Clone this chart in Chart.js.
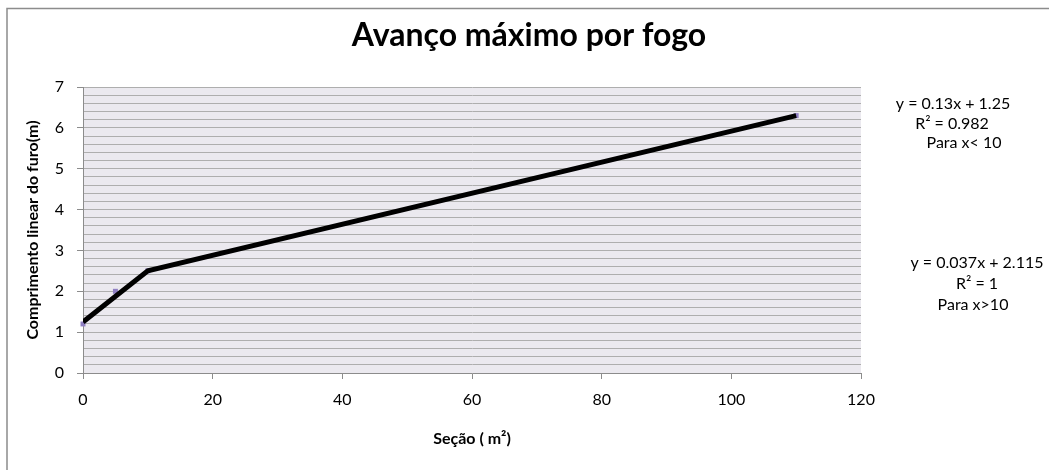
<!DOCTYPE html>
<html>
<head>
<meta charset="utf-8">
<script src="https://cdn.jsdelivr.net/npm/chart.js@4"></script>
<style>
  html, body { margin: 0; padding: 0; background: #ffffff; }
  #wrap { width: 1049px; height: 470px; }
</style>
</head>
<body>
<div id="wrap"><canvas id="c" width="1049" height="470"></canvas></div>
<script>
// Measured points: cross-section (m²) vs. linear hole length (m)
const sectionX = [0, 5, 10, 110];
const lengthY = [1.2, 2, 2.5, 6.3];

// Piecewise fit drawn as the thick line
const fitX = [0, 10, 110];
const fitY = [1.25, 2.5, 6.3];

const xTicks = [0, 20, 40, 60, 80, 100, 120];
const yTicks = [0, 1, 2, 3, 4, 5, 6, 7];

const chartTitle = 'Avanço máximo por fogo';

// Fit equations shown beside the plot
const fitLow = ['y = 0.13x + 1.25', 'R² = 0.982', 'Para x< 10'];
const fitHigh = ['y = 0.037x + 2.115', 'R² = 1', 'Para x>10'];

const FONT = 'Lato, "Open Sans", sans-serif';
const isInt = v => Math.abs(v - Math.round(v)) < 1e-6;

const frameAndNotes = {
  id: 'frameAndNotes',
  beforeDraw(chart) {
    const { ctx, chartArea: a } = chart;
    ctx.save();
    ctx.fillStyle = '#ebe9ef';
    ctx.fillRect(a.left, a.top, a.right - a.left, a.bottom - a.top);
    ctx.strokeStyle = '#8c8c8c';
    ctx.lineWidth = 1.5;
    ctx.strokeRect(7, 8.5, 1100, 500);
    ctx.restore();
  },
  afterDraw(chart) {
    const { ctx } = chart;
    ctx.save();
    ctx.fillStyle = '#000';
    ctx.textAlign = 'center';
    ctx.textBaseline = 'alphabetic';
    ctx.font = 'bold 32px ' + FONT;
    ctx.fillText(chartTitle, 529, 46);

    ctx.textBaseline = 'middle';
    ctx.font = '16px ' + FONT;
    const lowPos = [[953, 104], [952, 124], [964, 143]];
    const highPos = [[977, 263], [977, 284], [973, 305]];
    fitLow.forEach((t, i) => ctx.fillText(t, lowPos[i][0], lowPos[i][1]));
    fitHigh.forEach((t, i) => ctx.fillText(t, highPos[i][0], highPos[i][1]));
    ctx.restore();
  }
};

new Chart(document.getElementById('c'), {
  type: 'scatter',
  data: {
    datasets: [
      {
        label: 'Ajuste',
        data: fitX.map((x, i) => ({ x, y: fitY[i] })),
        showLine: true,
        borderColor: '#000000',
        borderWidth: 5,
        pointRadius: 0,
        tension: 0
      },
      {
        label: 'Medições',
        data: sectionX.map((x, i) => ({ x, y: lengthY[i] })),
        showLine: false,
        clip: 6,
        pointStyle: 'rect',
        pointRadius: 3.5,
        backgroundColor: '#8f7fc2',
        borderColor: '#8f7fc2',
        borderWidth: 0
      }
    ]
  },
  plugins: [frameAndNotes],
  options: {
    responsive: false,
    animation: false,
    layout: { padding: { left: 0, right: 188, top: 87, bottom: 0 } },
    plugins: {
      legend: { display: false },
      tooltip: { enabled: false },
      title: { display: false }
    },
    scales: {
      x: {
        type: 'linear',
        min: 0, max: 120,
        afterBuildTicks: s => { s.ticks = xTicks.map(v => ({ value: v })); },
        afterFit: s => { s.height = 97; },
        ticks: { color: '#000', font: { family: FONT, size: 16 }, padding: 11, maxRotation: 0 },
        grid: { drawOnChartArea: false, drawTicks: true, tickLength: 6, tickColor: '#8c8c8c' },
        border: { color: '#8c8c8c', width: 1 },
        title: {
          display: true,
          text: 'Seção ( m²)',
          color: '#000',
          font: { family: FONT, size: 16, weight: 'bold' },
          padding: { top: 0, bottom: 22 }
        }
      },
      y: {
        type: 'linear',
        min: 0, max: 7,
        afterBuildTicks: s => {
          const t = [];
          for (let k = 0; k <= 35; k++) t.push({ value: Math.round(k * 2) / 10 });
          s.ticks = t;
        },
        afterFit: s => { s.width = 83; },
        ticks: {
          color: '#000',
          font: { family: FONT, size: 16 },
          padding: 13,
          autoSkip: false,
          callback: v => (isInt(v) && yTicks.includes(Math.round(v)) ? String(Math.round(v)) : '')
        },
        grid: {
          color: '#aeaeae',
          lineWidth: 1,
          drawTicks: true,
          tickLength: 6,
          tickColor: c => (isInt(c.tick.value) ? '#8c8c8c' : 'rgba(0,0,0,0)')
        },
        border: { color: '#8c8c8c', width: 1 },
        title: {
          display: true,
          text: 'Comprimento linear do furo(m)',
          color: '#000',
          font: { family: FONT, size: 16, weight: 'bold' },
          padding: { top: 23, bottom: 0 }
        }
      }
    }
  }
});
</script>
</body>
</html>
